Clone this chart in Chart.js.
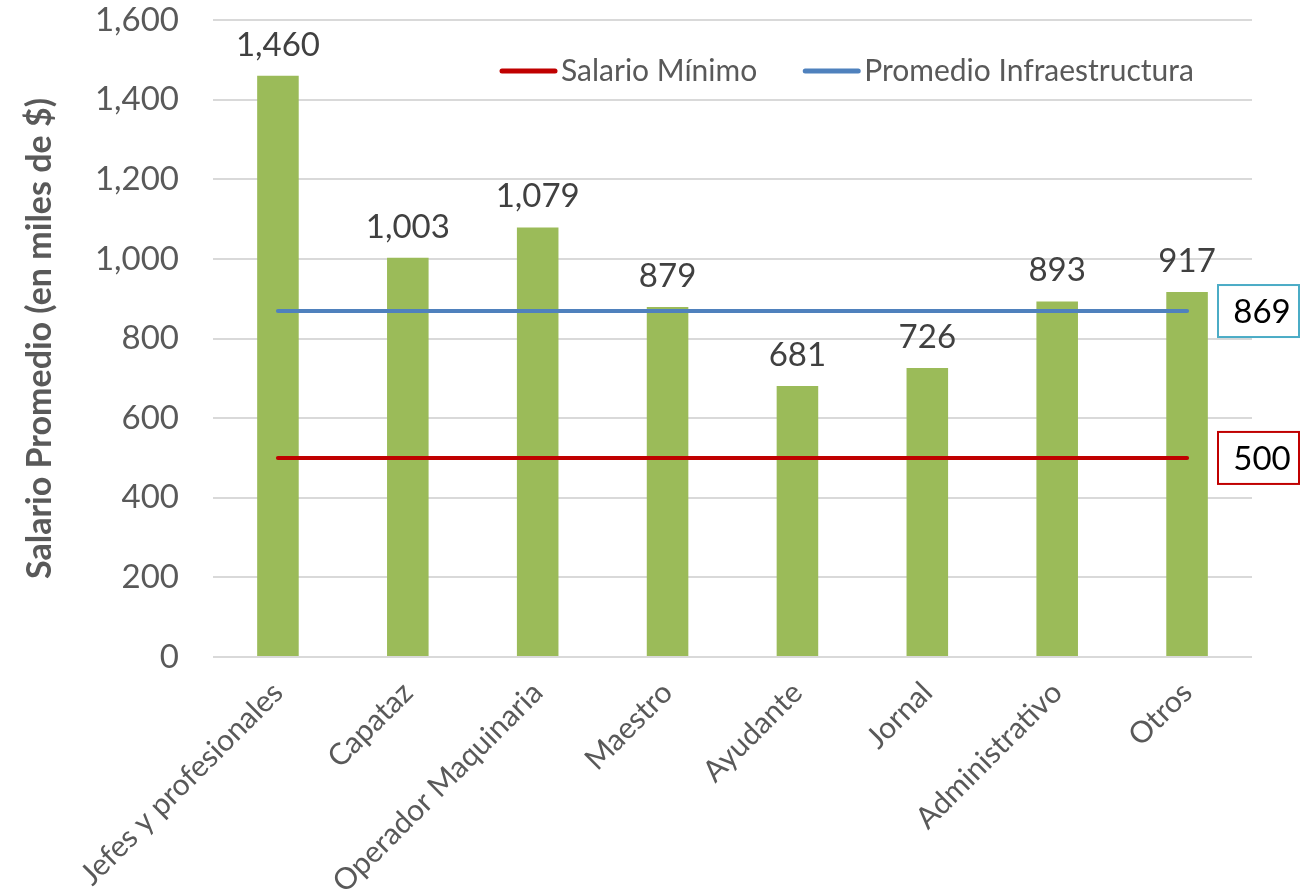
<!DOCTYPE html>
<html>
<head>
<meta charset="utf-8">
<script src="https://cdn.jsdelivr.net/npm/chart.js@4.4.0/dist/chart.umd.min.js"></script>
<style>
  html, body { margin: 0; padding: 0; background: #fff; }
</style>
</head>
<body>
<canvas id="salChart" width="1309" height="895"></canvas>
<script>
const categorias = ['Jefes y profesionales', 'Capataz', 'Operador Maquinaria', 'Maestro', 'Ayudante', 'Jornal', 'Administrativo', 'Otros'];
const salarios = [1460, 1003, 1079, 879, 681, 726, 893, 917];
const salarioMinimo = [500, 500, 500, 500, 500, 500, 500, 500];
const promedioInfra = [869, 869, 869, 869, 869, 869, 869, 869];
const yTicks = [0, 200, 400, 600, 800, 1000, 1200, 1400, 1600];

const FONT = 'Lato, "Open Sans", sans-serif';

// numbers on top of the bars
const barLabels = {
  id: 'barLabels',
  afterDatasetsDraw(chart) {
    const ctx = chart.ctx;
    const meta = chart.getDatasetMeta(0);
    ctx.save();
    ctx.font = '33px ' + FONT;
    ctx.fillStyle = '#404040';
    ctx.textAlign = 'center';
    ctx.textBaseline = 'alphabetic';
    meta.data.forEach((bar, i) => {
      ctx.fillText(salarios[i].toLocaleString('en-US'), bar.x, bar.y - 20);
    });
    ctx.restore();
  }
};

// boxed value at the right end of each reference line
const lineBoxes = {
  id: 'lineBoxes',
  afterDraw(chart) {
    const ctx = chart.ctx;
    const area = chart.chartArea;
    const boxes = [
      { value: promedioInfra[0], border: '#4BACC6' },
      { value: salarioMinimo[0], border: '#C00000' }
    ];
    ctx.save();
    boxes.forEach(b => {
      const y = chart.scales.y.getPixelForValue(b.value);
      const x = area.right - 34;
      ctx.fillStyle = '#fff';
      ctx.fillRect(x, y - 26, 81, 52);
      ctx.strokeStyle = b.border;
      ctx.lineWidth = 2;
      ctx.strokeRect(x, y - 26, 81, 52);
      ctx.fillStyle = '#000';
      ctx.font = '33px ' + FONT;
      ctx.textAlign = 'center';
      ctx.textBaseline = 'middle';
      ctx.fillText(String(b.value), x + 44, y + 1);
    });
    ctx.restore();
  }
};

// legend inside the plot, top right
const innerLegend = {
  id: 'innerLegend',
  afterDraw(chart) {
    const ctx = chart.ctx;
    const area = chart.chartArea;
    const items = [
      { text: 'Salario Mínimo', color: '#C00000' },
      { text: 'Promedio Infraestructura', color: '#4F81BD' }
    ];
    let x = area.left + 289;
    const y = area.top + 51;
    ctx.save();
    ctx.font = '30px ' + FONT;
    ctx.textBaseline = 'middle';
    ctx.lineCap = 'round';
    items.forEach(it => {
      ctx.strokeStyle = it.color;
      ctx.lineWidth = 5;
      ctx.beginPath();
      ctx.moveTo(x, y);
      ctx.lineTo(x + 53, y);
      ctx.stroke();
      ctx.fillStyle = '#595959';
      ctx.fillText(it.text, x + 59, y);
      x += 59 + ctx.measureText(it.text).width + 48;
    });
    ctx.restore();
  }
};

new Chart(document.getElementById('salChart'), {
  data: {
    labels: categorias,
    datasets: [
      {
        type: 'bar',
        label: 'Salario Promedio',
        data: salarios,
        backgroundColor: '#9BBB59',
        barPercentage: 0.32,
        categoryPercentage: 1,
        order: 2
      },
      {
        type: 'line',
        label: 'Salario Mínimo',
        data: salarioMinimo,
        borderColor: '#C00000',
        borderWidth: 4,
        borderCapStyle: 'round',
        pointRadius: 0,
        order: 1
      },
      {
        type: 'line',
        label: 'Promedio Infraestructura',
        data: promedioInfra,
        borderColor: '#4F81BD',
        borderWidth: 4,
        borderCapStyle: 'round',
        pointRadius: 0,
        order: 1
      }
    ]
  },
  options: {
    responsive: false,
    animation: false,
    layout: { padding: { left: 0, right: 57, top: 20, bottom: 0 } },
    plugins: {
      legend: { display: false },
      tooltip: { enabled: false }
    },
    scales: {
      x: {
        offset: true,
        grid: { display: false },
        border: { display: false },
        ticks: {
          minRotation: 45,
          maxRotation: 45,
          autoSkip: false,
          padding: 10,
          color: '#595959',
          font: { family: FONT, size: 30 }
        },
        afterFit(scale) {
          scale.height = 238;
          scale.paddingLeft = 0;
          scale.paddingRight = 0;
        }
      },
      y: {
        min: 0,
        max: 1600,
        afterBuildTicks(scale) { scale.ticks = yTicks.map(v => ({ value: v })); },
        grid: { color: '#D9D9D9', lineWidth: 2, drawTicks: false },
        border: { display: false },
        ticks: {
          padding: 34,
          color: '#595959',
          font: { family: FONT, size: 33 },
          callback: v => v.toLocaleString('en-US')
        },
        title: {
          display: true,
          text: 'Salario Promedio (en miles de $)',
          color: '#595959',
          font: { family: FONT, size: 34, weight: 'bold' },
          padding: { top: 20, bottom: 0 }
        },
        afterFit(scale) {
          scale.width = 213;
          scale.paddingTop = 0;
          scale.paddingBottom = 0;
        }
      }
    }
  },
  plugins: [barLabels, lineBoxes, innerLegend]
});
</script>
</body>
</html>
